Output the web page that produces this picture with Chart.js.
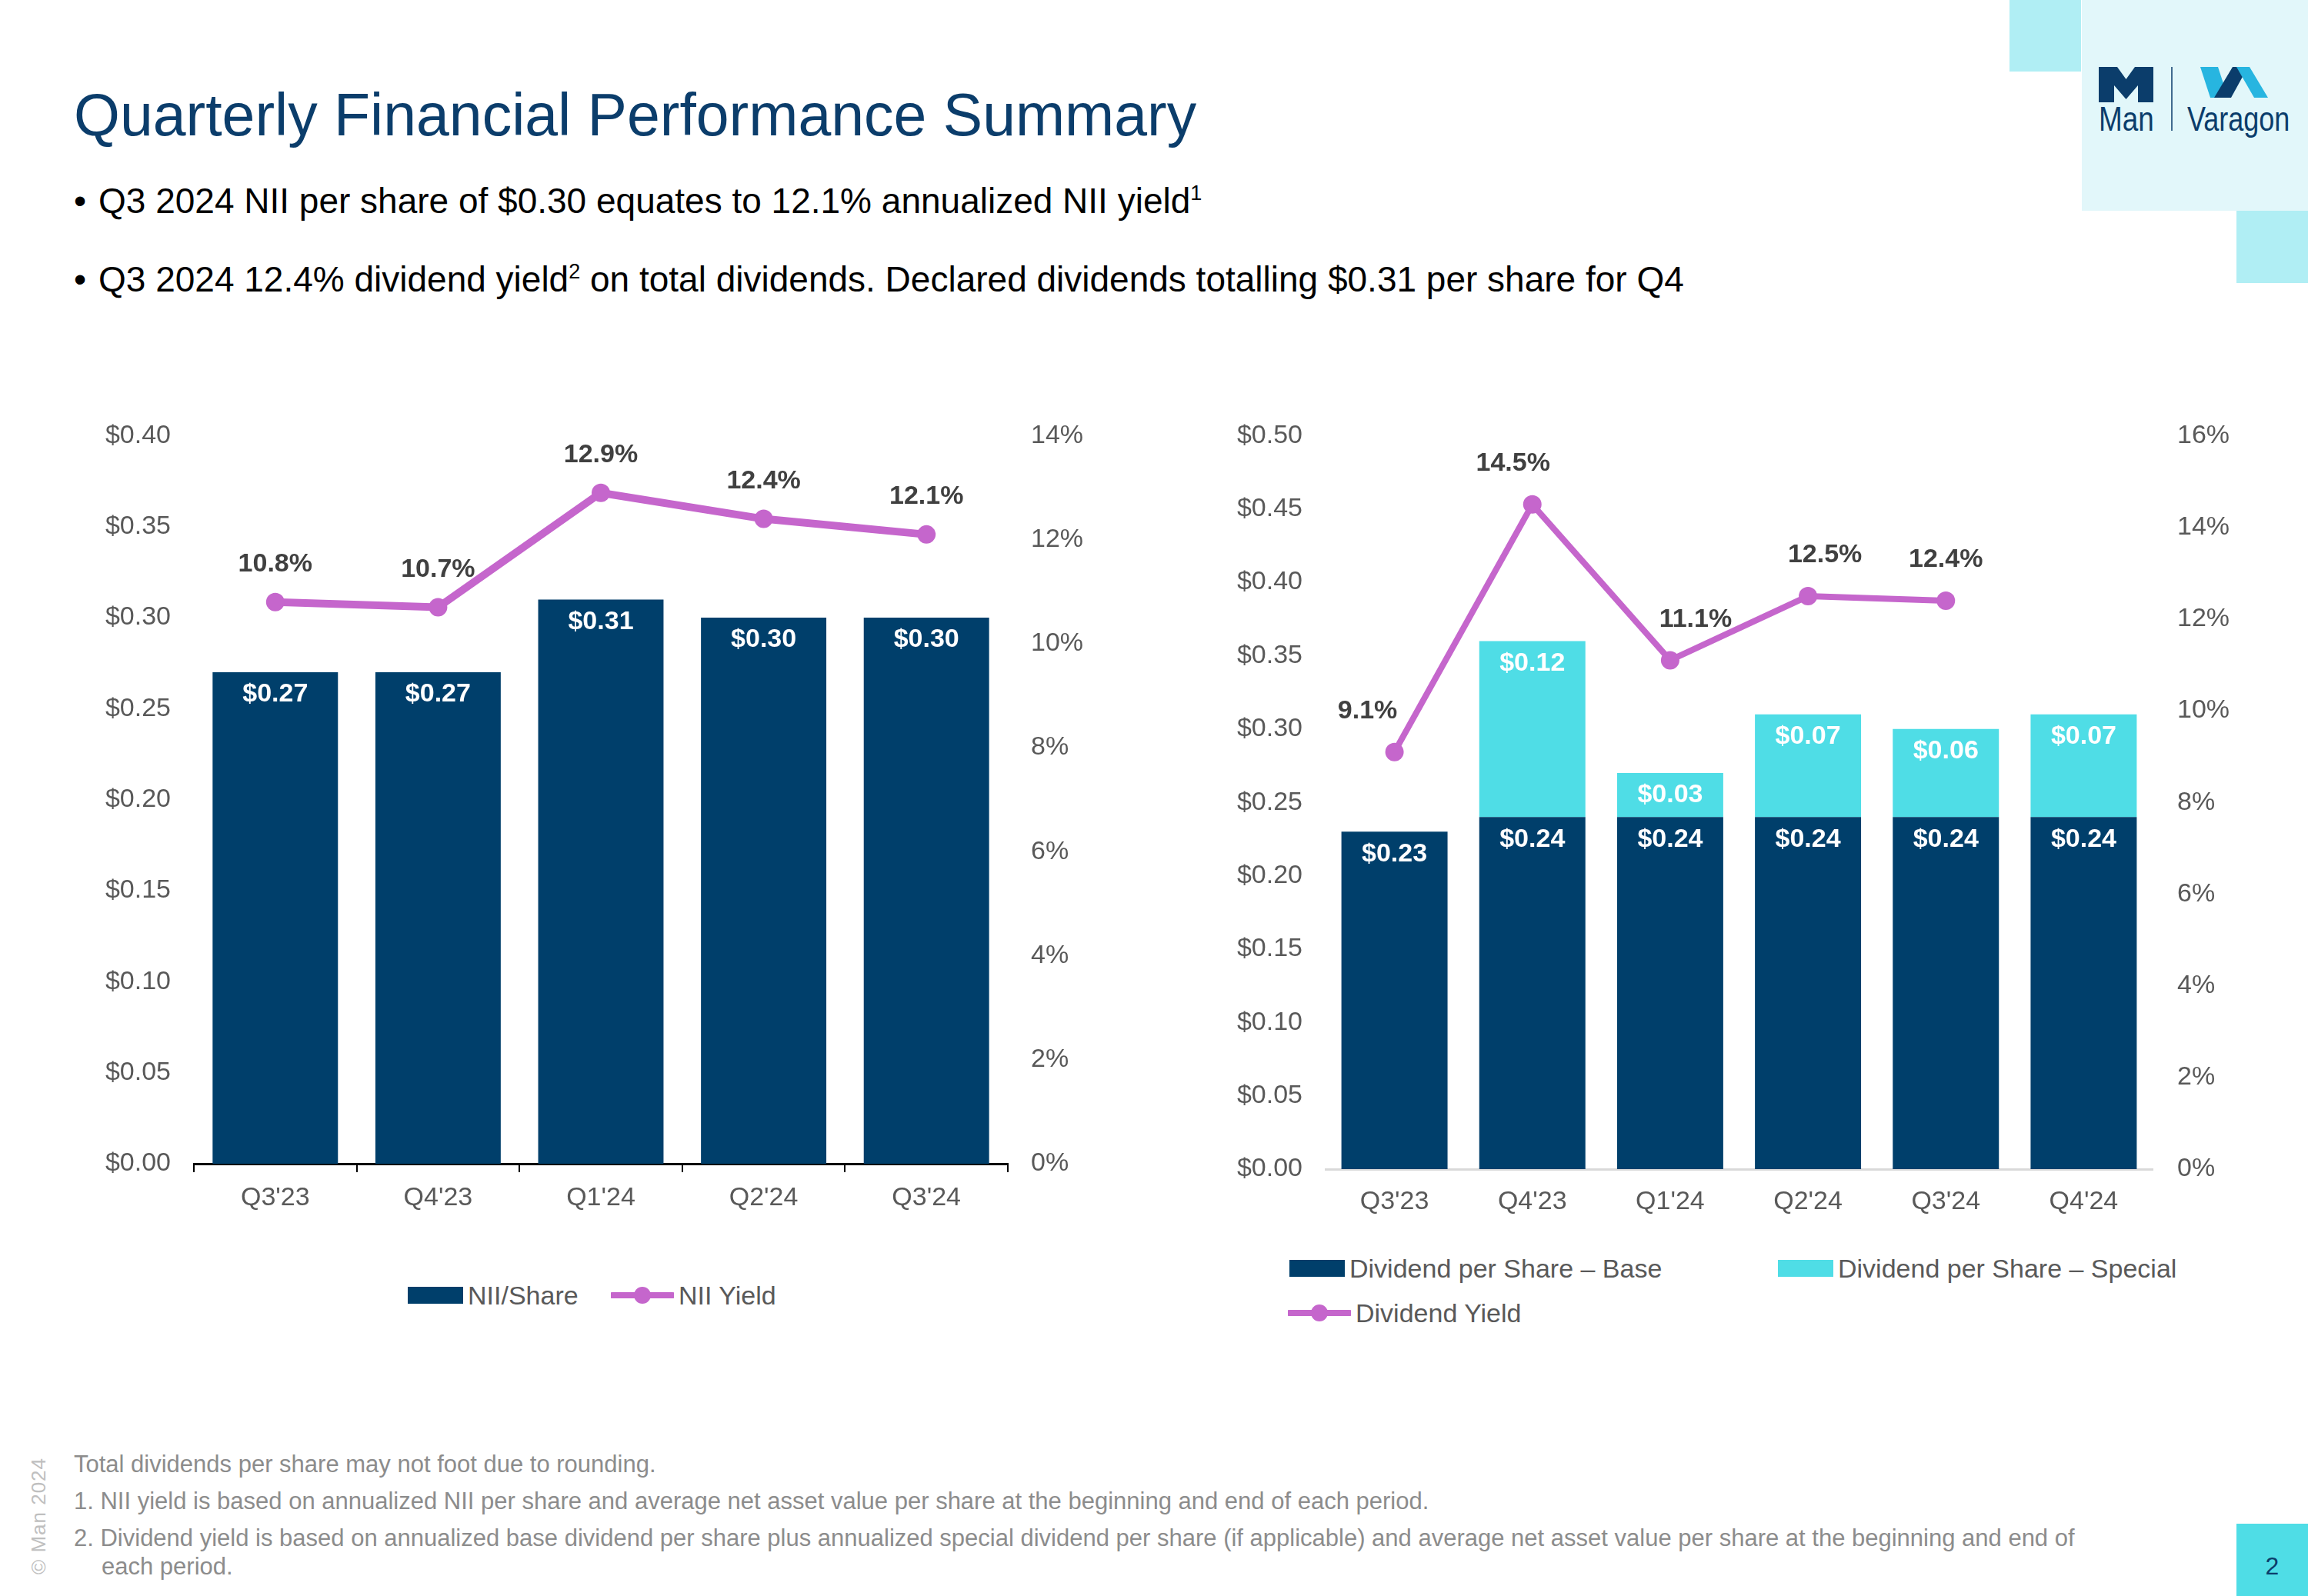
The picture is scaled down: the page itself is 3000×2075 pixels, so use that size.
<!DOCTYPE html>
<html>
<head>
<meta charset="utf-8">
<script src="https://cdn.jsdelivr.net/npm/chart.js"></script>
<style>
  body { margin: 0; width: 3000px; height: 2075px; position: relative; overflow: hidden; background: #fff; font-family: "Liberation Sans", Arial, sans-serif; }
  .abs { position: absolute; }
  .title { left: 96px; top: 111px; font-size: 77px; line-height: 1; color: #0b3d6b; white-space: nowrap; }
  .bullet { left: 96px; font-size: 46px; line-height: 1; color: #000; white-space: nowrap; }
  .bullet .dot { display: inline-block; width: 32px; }
  .bullet sup { font-size: 27px; vertical-align: 17px; line-height: 0; }
  .note { left: 96px; font-size: 31px; line-height: 37px; color: #8c8c8c; white-space: nowrap; }
  .legend-item { position: absolute; font-size: 34px; line-height: 1; color: #595959; white-space: nowrap; display: flex; align-items: center; }
  .legend-item .sw { margin-right: 6px; }
  canvas { position: absolute; }
</style>
</head>
<body>

<!-- corner decoration + logo -->
<div class="abs" style="left:2612px;top:0;width:93px;height:93px;background:#b0eef4"></div>
<div class="abs" style="left:2706px;top:0;width:294px;height:274px;background:#e2f7fa"></div>
<div class="abs" style="left:2907px;top:274px;width:93px;height:94px;background:#b0eef4"></div>
<svg class="abs" style="left:2700px;top:70px" width="300" height="120" viewBox="0 0 300 120">
  <polygon fill="#0b3d6b" points="28,17 52,17 63.5,33 75,17 99,17 99,63 79,63 79,41 63.5,59 48,41 48,63 28,63"/>
  <line x1="123" y1="17" x2="123" y2="100" stroke="#0b3d6b" stroke-width="1.5"/>
  <polygon fill="#27b5e0" points="160,17 183,17 196,57 173,57"/>
  <polygon fill="#0b3d6b" points="178,57 200,57 222,17 202,17"/>
  <polygon fill="#27b5e0" points="207,17 224,17 248,57 230,57"/>
  <text x="28" y="100" font-size="45" fill="#0b3d6b" font-family="Liberation Sans, Arial" transform="translate(28,0) scale(0.82,1) translate(-28,0)">Man</text>
  <text x="143" y="100" font-size="45" fill="#0b3d6b" font-family="Liberation Sans, Arial" transform="translate(143,0) scale(0.8,1) translate(-143,0)">Varagon</text>
</svg>

<div class="abs title">Quarterly Financial Performance Summary</div>
<div class="abs bullet" style="top:238px"><span class="dot">•</span>Q3 2024 NII per share of $0.30 equates to 12.1% annualized NII yield<sup>1</sup></div>
<div class="abs bullet" style="top:340px"><span class="dot">•</span>Q3 2024 12.4% dividend yield<sup>2</sup> on total dividends. Declared dividends totalling $0.31 per share for Q4</div>

<canvas id="niiChart" width="1320" height="1075" style="left:100px;top:516px"></canvas>
<canvas id="divChart" width="1400" height="1086" style="left:1580px;top:514px"></canvas>
<div id="niiLegend"></div>
<div id="divLegend"></div>

<div class="abs note" style="top:1885px">Total dividends per share may not foot due to rounding.</div>
<div class="abs note" style="top:1933px">1. NII yield is based on annualized NII per share and average net asset value per share at the beginning and end of each period.</div>
<div class="abs note" style="top:1981px">2. Dividend yield is based on annualized base dividend per share plus annualized special dividend per share (if applicable) and average net asset value per share at the beginning and end of<br><span style="padding-left:36px">each period.</span></div>

<div class="abs" style="left:37px;top:2047px;transform-origin:0 0;transform:rotate(-90deg);font-size:26px;line-height:26px;color:#bfbfbf;white-space:nowrap;letter-spacing:1px">© Man 2024</div>
<div class="abs" style="left:2907px;top:1981px;width:93px;height:94px;background:#4fdde6;color:#0b3d6b;font-size:32px;display:flex;align-items:center;justify-content:center;padding-top:16px;box-sizing:border-box">2</div>

<script>
// Data
const niiQuarters = ["Q3'23", "Q4'23", "Q1'24", "Q2'24", "Q3'24"];
const niiPerShare = [0.27, 0.27, 0.31, 0.30, 0.30];
const niiYield = [10.8, 10.7, 12.9, 12.4, 12.1];

const divQuarters = ["Q3'23", "Q4'23", "Q1'24", "Q2'24", "Q3'24", "Q4'24"];
const divBase = [0.23, 0.24, 0.24, 0.24, 0.24, 0.24];
const divSpecial = [null, 0.12, 0.03, 0.07, 0.06, 0.07];
const divYield = [9.1, 14.5, 11.1, 12.5, 12.4, null];

const navy = '#003f6b';
const cyan = '#4fdde6';
const purple = '#c566cc';
const fontFamily = '"Liberation Sans", Arial, sans-serif';

Chart.defaults.font.family = fontFamily;
Chart.defaults.font.size = 34;
Chart.defaults.color = '#595959';

// value labels drawn on bars and above line points
const valueLabels = {
    id: 'valueLabels',
    afterDatasetsDraw(chart, args, opts) {
        const ctx = chart.ctx;
        ctx.save();
        ctx.textAlign = 'center';
        ctx.textBaseline = 'middle';
        ctx.font = 'bold 34px ' + fontFamily;
        chart.data.datasets.forEach((ds, i) => {
            const meta = chart.getDatasetMeta(i);
            meta.data.forEach((el, j) => {
                const v = ds.data[j];
                if (v == null) return;
                if (ds.type === 'line') {
                    const dx = (opts.lineShift || [])[j] || 0;
                    ctx.fillStyle = '#404040';
                    ctx.fillText(v.toFixed(1) + '%', el.x + dx, el.y - opts.lineOffset);
                } else {
                    ctx.fillStyle = '#ffffff';
                    ctx.fillText('$' + v.toFixed(2), el.x, el.y + 29);
                }
            });
        });
        ctx.restore();
    }
};

function yAxis(max, step, width, pad, fmt, stacked) {
    return {
        position: 'left', min: 0, max: max, stacked: stacked,
        grid: { display: false, drawTicks: false },
        border: { display: false },
        ticks: { stepSize: step, padding: pad, callback: fmt },
        afterFit: s => { s.width = width; }
    };
}

// NII chart
const niiChart = new Chart(document.getElementById('niiChart'), {
    type: 'bar',
    data: {
        labels: niiQuarters,
        datasets: [{
            type: 'bar',
            label: 'NII/Share',
            data: niiPerShare,
            yAxisID: 'y',
            backgroundColor: navy,
            barPercentage: 0.77,
            categoryPercentage: 1,
            order: 1
        }, {
            type: 'line',
            label: 'NII Yield',
            data: niiYield,
            yAxisID: 'y1',
            borderColor: purple,
            backgroundColor: purple,
            borderWidth: 10,
            pointRadius: 12,
            pointBorderWidth: 0,
            order: 0
        }]
    },
    options: {
        responsive: false,
        animation: false,
        devicePixelRatio: 1,
        layout: { padding: 0 },
        plugins: {
            legend: { display: false },
            tooltip: { enabled: false },
            valueLabels: { lineOffset: 49 }
        },
        scales: {
            x: {
                grid: { display: true, drawOnChartArea: false, drawTicks: true, tickLength: 11, color: '#000', lineWidth: 2 },
                border: { display: true, color: '#000', width: 3 },
                ticks: { padding: 13 },
                afterFit: s => { s.height = 78; }
            },
            y: yAxis(0.4, 0.05, 152, 30, v => '$' + v.toFixed(2), false),
            y1: Object.assign(yAxis(14, 2, 110, 30, v => v + '%', false), { position: 'right' })
        }
    },
    plugins: [valueLabels]
});

// Dividend chart (base stacked first, special on top)
const divChart = new Chart(document.getElementById('divChart'), {
    type: 'bar',
    data: {
        labels: divQuarters,
        datasets: [{
            type: 'bar',
            label: 'Dividend per Share – Base',
            data: divBase,
            yAxisID: 'y',
            backgroundColor: navy,
            barPercentage: 0.77,
            categoryPercentage: 1,
            order: 1
        }, {
            type: 'bar',
            label: 'Dividend per Share – Special',
            data: divSpecial,
            yAxisID: 'y',
            backgroundColor: cyan,
            barPercentage: 0.77,
            categoryPercentage: 1,
            order: 2
        }, {
            type: 'line',
            label: 'Dividend Yield',
            data: divYield,
            yAxisID: 'y1',
            borderColor: purple,
            backgroundColor: purple,
            borderWidth: 8,
            pointRadius: 12,
            pointBorderWidth: 0,
            order: 0
        }]
    },
    options: {
        responsive: false,
        animation: false,
        devicePixelRatio: 1,
        layout: { padding: 0 },
        plugins: {
            legend: { display: false },
            tooltip: { enabled: false },
            valueLabels: { lineOffset: 53, lineShift: [-35, -25, 33, 22, 0, 0] }
        },
        scales: {
            x: {
                stacked: true,
                grid: { display: false, drawTicks: false },
                border: { display: true, color: '#d9d9d9', width: 3 },
                ticks: { padding: 22 },
                afterFit: s => { s.height = 80; }
            },
            y: yAxis(0.5, 0.05, 143, 30, v => '$' + v.toFixed(2), true),
            y1: Object.assign(yAxis(16, 2, 182, 32, v => v + '%', false), { position: 'right' })
        }
    },
    plugins: [valueLabels]
});

// HTML legends built from the chart datasets
function swatch(ds) {
    if (ds.type === 'line') {
        return '<svg class="sw" width="82" height="26"><line x1="2" y1="13" x2="80" y2="13" stroke="' + ds.borderColor +
            '" stroke-width="8" stroke-linecap="round"/><circle cx="41" cy="13" r="11" fill="' + ds.borderColor + '"/></svg>';
    }
    return '<span class="sw" style="display:inline-block;width:72px;height:22px;background:' + ds.backgroundColor + '"></span>';
}
function buildLegend(chart, holder, spots) {
    holder.innerHTML = chart.data.datasets.map((ds, i) =>
        '<div class="legend-item" style="left:' + spots[i][0] + 'px;top:' + spots[i][1] + 'px">' + swatch(ds) + ds.label + '</div>'
    ).join('');
}
buildLegend(niiChart, document.getElementById('niiLegend'), [[530, 1667], [794, 1667]]);
buildLegend(divChart, document.getElementById('divLegend'), [[1676, 1632], [2311, 1632], [1674, 1690]]);
</script>
</body>
</html>
